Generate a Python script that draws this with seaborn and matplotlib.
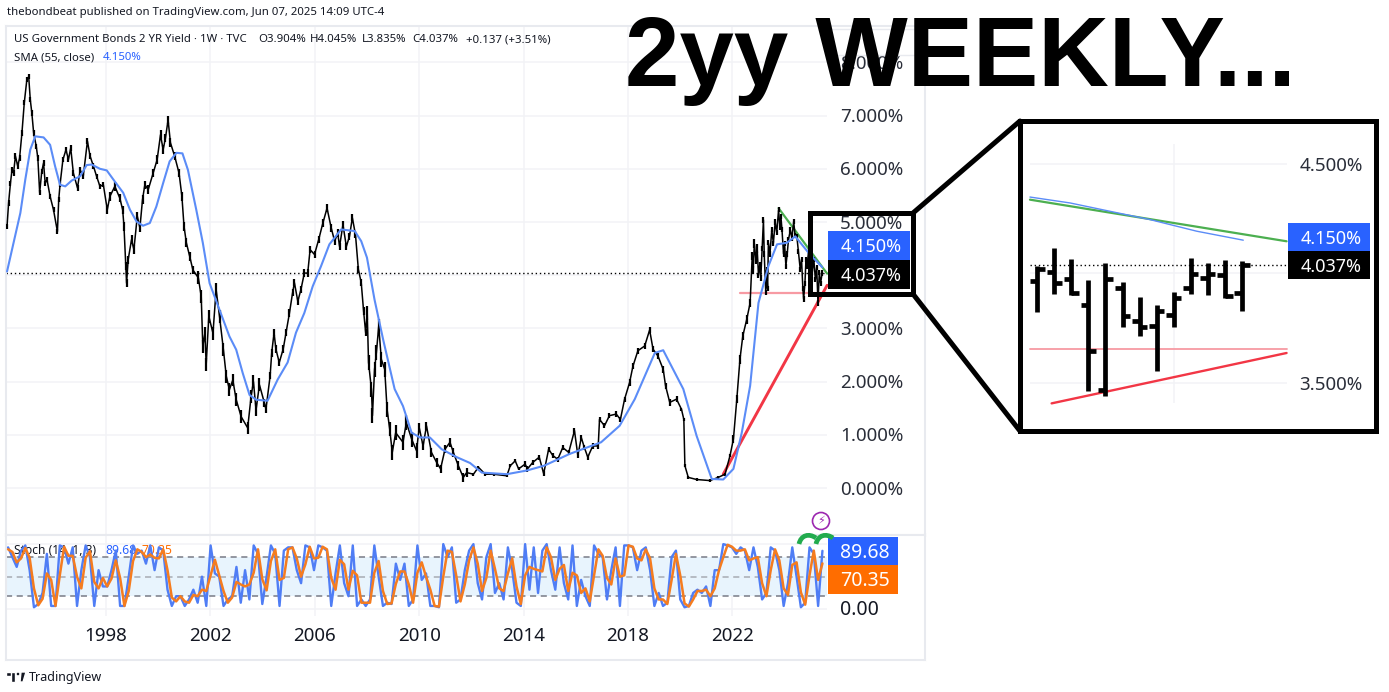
import numpy as np
import matplotlib
matplotlib.use("Agg")
import matplotlib.pyplot as plt
from matplotlib.patches import Rectangle, Polygon, Circle, PathPatch
from matplotlib.path import Path
import seaborn as sns

# weekly yield as (year, percent) turning points
price_years = [
    1994.21, 1994.27, 1994.34, 1994.40, 1994.46, 1994.53, 1994.62, 1994.69, 1994.78, 1994.87, 1994.97, 1995.04,
    1995.10, 1995.16, 1995.23, 1995.33, 1995.39, 1995.46, 1995.54, 1995.61, 1995.67, 1995.74, 1995.86, 1995.99,
    1996.14, 1996.19, 1996.24, 1996.35, 1996.47, 1996.56, 1996.65, 1996.75, 1996.91, 1997.01, 1997.13, 1997.29,
    1997.39, 1997.52, 1997.64, 1997.77, 1997.90, 1998.05, 1998.15, 1998.34, 1998.53, 1998.64, 1998.69, 1998.76,
    1998.79, 1998.85, 1998.98, 1999.07, 1999.20, 1999.30, 1999.40, 1999.49, 1999.62, 1999.81, 1999.96, 2000.09,
    2000.19, 2000.28, 2000.38, 2000.47, 2000.63, 2000.80, 2000.91, 2000.99, 2001.08, 2001.21, 2001.33, 2001.54,
    2001.65, 2001.71, 2001.79, 2001.84, 2001.94, 2002.10, 2002.22, 2002.35, 2002.50, 2002.61, 2002.73, 2002.86,
    2002.99, 2003.18, 2003.43, 2003.56, 2003.65, 2003.75, 2003.88, 2004.07, 2004.13, 2004.29, 2004.35, 2004.44,
    2004.51, 2004.64, 2004.79, 2004.90, 2005.03, 2005.15, 2005.22, 2005.35, 2005.47, 2005.60, 2005.73, 2005.82,
    2005.99, 2006.15, 2006.31, 2006.47, 2006.63, 2006.76, 2006.88, 2006.95, 2007.08, 2007.21, 2007.33, 2007.44,
    2007.56, 2007.67, 2007.78, 2007.87, 2007.95, 2008.01, 2008.06, 2008.17, 2008.21, 2008.29, 2008.36, 2008.45,
    2008.55, 2008.68, 2008.77, 2008.87, 2008.97, 2009.10, 2009.38, 2009.51, 2009.71, 2009.90, 2010.00, 2010.15,
    2010.28, 2010.47, 2010.67, 2010.82, 2010.99, 2011.18, 2011.31, 2011.50, 2011.69, 2011.82, 2012.08, 2012.27,
    2012.53, 2012.85, 2013.36, 2013.49, 2013.68, 2013.81, 2014.06, 2014.15, 2014.35, 2014.60, 2014.77, 2014.96,
    2015.12, 2015.31, 2015.50, 2015.73, 2015.95, 2016.08, 2016.21, 2016.33, 2016.46, 2016.65, 2016.86, 2016.91,
    2017.10, 2017.29, 2017.55, 2017.71, 2017.87, 2018.06, 2018.19, 2018.38, 2018.64, 2018.83, 2018.96, 2019.15,
    2019.35, 2019.44, 2019.60, 2019.86, 2020.05, 2020.14, 2020.18, 2020.31, 2020.63, 2021.14, 2021.46, 2021.72,
    2021.91, 2022.04, 2022.17, 2022.29, 2022.40, 2022.55, 2022.68,
    2022.76, 2022.80, 2022.84, 2022.90, 2022.95, 2023.00, 2023.05, 2023.09, 2023.14, 2023.19, 2023.22, 2023.28,
    2023.31, 2023.35, 2023.38, 2023.44, 2023.51, 2023.57, 2023.64, 2023.70, 2023.77, 2023.82, 2023.86, 2023.90,
    2023.96, 2024.00, 2024.05, 2024.10, 2024.15, 2024.22, 2024.28, 2024.35, 2024.40, 2024.47, 2024.53, 2024.60,
    2024.65, 2024.70, 2024.73, 2024.78, 2024.82, 2024.86, 2024.92, 2025.01, 2025.06, 2025.12, 2025.18, 2025.23,
    2025.28, 2025.33, 2025.38, 2025.44]
price_vals = [
    4.92, 5.36, 5.73, 5.98, 5.92, 6.24, 6.05, 6.20, 6.67, 7.24, 7.68, 7.73,
    7.30, 7.05, 6.67, 6.42, 6.20, 5.55, 5.95, 6.11, 5.73, 5.80, 5.48, 5.23,
    4.82, 5.42, 5.70, 6.17, 6.36, 6.17, 6.39, 5.92, 5.64, 5.98, 5.86, 6.52,
    6.24, 6.05, 5.86, 5.67, 5.70, 5.23, 5.48, 5.67, 5.45, 5.23, 4.92, 4.17,
    3.85, 4.29, 4.67, 4.48, 5.11, 4.89, 5.42, 5.70, 5.61, 5.92, 6.17, 6.64,
    6.36, 6.58, 6.92, 6.49, 6.24, 5.92, 5.48, 4.92, 4.61, 4.35, 4.10, 3.95,
    3.60, 2.66, 2.91, 2.32, 3.23, 2.91, 3.73, 3.23, 2.60, 2.10, 1.85, 2.03,
    1.66, 1.34, 1.13, 1.72, 2.00, 1.47, 1.94, 1.60, 1.48, 2.11, 2.54, 2.92,
    2.61, 2.36, 2.61, 2.92, 3.29, 3.67, 3.86, 3.51, 3.73, 4.04, 4.04, 4.48,
    4.39, 4.67, 4.98, 5.26, 4.89, 4.64, 4.79, 4.54, 4.95, 4.54, 4.73, 5.08,
    4.76, 4.11, 3.86, 3.33, 2.92, 3.29, 2.36, 1.86, 1.36, 2.23, 2.54, 3.04,
    2.42, 2.23, 1.48, 1.11, 0.67, 1.04, 0.86, 1.23, 0.92, 0.70, 1.14, 0.79,
    1.17, 0.67, 0.48, 0.36, 0.73, 0.86, 0.67, 0.42, 0.20, 0.29, 0.26, 0.39,
    0.26, 0.26, 0.23, 0.42, 0.51, 0.36, 0.45, 0.36, 0.48, 0.58, 0.27, 0.73,
    0.61, 0.54, 0.76, 0.67, 1.08, 0.61, 0.95, 0.76, 0.58, 0.79, 0.79, 1.29,
    1.17, 1.36, 1.39, 1.29, 1.67, 1.98, 2.29, 2.58, 2.67, 2.97, 2.61, 2.48,
    2.23, 1.92, 1.61, 1.67, 1.48, 1.29, 0.42, 0.20, 0.16, 0.14, 0.20, 0.26,
    0.61, 0.92, 1.67, 2.42, 2.86, 3.17, 3.48,
    4.36, 4.10, 4.60, 4.30, 4.50, 4.00, 4.20, 3.95, 4.50, 5.04, 4.40, 3.67,
    4.10, 3.75, 4.61, 4.40, 4.86, 4.60, 5.00, 4.80, 5.23, 4.90, 5.10, 4.86,
    4.40, 4.60, 4.17, 4.40, 4.67, 4.85, 4.70, 5.01, 4.75, 4.73, 4.45, 4.11,
    4.30, 3.75, 3.55, 3.85, 4.30, 4.17, 4.45, 4.39, 4.05, 4.30, 3.92, 4.15,
    3.48, 4.05, 3.85, 4.04]

# typical half height of a weekly bar, by stretch of years
span_edges = [1994, 1998, 2001.5, 2004, 2008, 2010, 2012, 2014, 2018, 2020, 2022, 2023]
span_half = [0.05, 0.08, 0.12, 0.07, 0.14, 0.08, 0.03, 0.05, 0.06, 0.03, 0.08, 0.05]

sma_years = [
    1994.21, 1994.46, 1994.72, 1994.91, 1995.10, 1995.29, 1995.61, 1995.86, 1996.05, 1996.24, 1996.44, 1996.69,
    1997.01, 1997.26, 1997.45, 1997.77, 1998.03, 1998.34, 1998.66, 1998.92, 1999.17, 1999.42, 1999.68, 1999.93,
    2000.19, 2000.44, 2000.70, 2000.93, 2001.14, 2001.46, 2001.71, 2001.97, 2002.35, 2002.73, 2002.99, 2003.24,
    2003.50, 2003.75, 2004.19, 2004.58, 2004.96, 2005.28, 2005.60, 2005.92, 2006.24, 2006.56, 2007.01, 2007.53,
    2007.78, 2008.00, 2008.29, 2008.62, 2009.06, 2009.38, 2009.71, 2010.03, 2010.41, 2010.86, 2011.44, 2011.95,
    2012.40, 2013.36, 2014.13, 2014.79, 2015.76, 2016.97, 2017.68, 2018.26, 2019.03, 2019.35, 2020.12, 2020.63,
    2021.21, 2021.65, 2022.04, 2022.36, 2022.68, 2023.00, 2023.38, 2023.71, 2024.09, 2024.41, 2024.92, 2025.44]
sma_vals = [
    4.07, 4.61, 5.17, 5.80, 6.36, 6.61, 6.59, 6.45, 6.05, 5.70, 5.67, 5.78,
    5.86, 6.07, 6.08, 6.00, 5.97, 5.76, 5.55, 5.23, 5.01, 4.93, 4.98, 5.29,
    5.73, 6.14, 6.30, 6.29, 5.98, 5.23, 4.61, 3.85, 3.35, 2.85, 2.60, 2.16,
    1.75, 1.66, 1.64, 2.04, 2.36, 2.92, 3.29, 3.79, 4.17, 4.58, 4.86, 4.83,
    4.64, 4.33, 3.54, 2.79, 1.86, 1.54, 1.04, 0.95, 0.95, 0.73, 0.58, 0.47,
    0.29, 0.26, 0.33, 0.42, 0.64, 0.86, 1.17, 1.67, 2.54, 2.59, 1.86, 0.98,
    0.17, 0.16, 0.36, 1.04, 1.92, 3.48, 4.17, 4.58, 4.61, 4.73, 4.42, 4.15]

green_years = [2023.77, 2025.63]
green_vals = [5.26, 4.03]
red_years = [2021.65, 2025.63]
red_vals = [0.26, 3.81]
pink_years = [2022.29, 2025.63]
pink_vals = [3.66, 3.66]

stoch_k = [
    95, 80, 65, 90, 98, 60, 3, 8, 25, 85, 5, 5, 98, 95, 70, 95, 5, 60, 98, 80, 5, 60, 35, 35, 60, 90, 5, 5, 50, 98,
    85, 90, 70, 98, 60, 95, 90, 30, 5, 20, 20, 5, 15, 30, 10, 50, 5, 98, 55,
    50, 5, 15, 20, 65, 10, 60, 15, 98, 85, 8, 50, 98, 85, 5, 90, 95, 95, 60, 40, 98, 95, 60, 98, 95, 90, 5, 55, 98, 40,
    20, 98, 5, 15, 5, 15, 98, 50, 5, 10, 8, 70, 45, 70, 5, 15, 98, 45, 55,
    5, 5, 3, 100, 80, 95, 10, 15, 60, 90, 100, 40, 15, 80, 100, 25, 40, 15, 95, 60, 10, 5, 100, 30, 95, 25, 90, 100, 60, 30,
    95, 40, 15, 98, 5, 45, 20, 5, 98, 85, 80, 15, 60, 95, 5, 98, 98, 95, 60, 90, 95, 60, 5, 25, 5, 10, 80, 90, 15, 3, 5, 25, 30,
    25, 35, 5, 60, 60, 100, 98, 95, 85, 95, 90, 60, 95, 65, 15, 25, 95, 90, 60, 5, 40, 95, 50, 3, 10, 95, 85, 5, 89.68]
stoch_d = [
    92, 88, 72, 78, 94, 79, 32, 6, 16, 55, 45, 5, 52, 96, 82, 82, 50, 32, 79, 89, 42, 32, 48, 35, 47, 75, 48, 5, 28, 74,
    92, 88, 80, 84, 79, 78, 92, 60, 18, 12, 20, 12, 10, 22, 20, 30, 28, 52, 76,
    52, 28, 10, 18, 42, 38, 35, 38, 56, 92, 46, 29, 74, 92, 45, 48, 92, 95, 78, 50, 69, 96, 78, 79, 96, 92, 48, 30, 76, 69,
    30, 59, 52, 10, 10, 10, 56, 74, 28, 8, 9, 39, 58, 58, 38, 10, 56, 72, 50,
    30, 5, 4, 50, 90, 88, 52, 12, 38, 75, 95, 70, 28, 48, 90, 62, 32, 28, 55, 78, 35, 8, 52, 65, 62, 60, 58, 95, 80, 45,
    62, 68, 28, 56, 52, 25, 32, 12, 52, 92, 82, 48, 38, 78, 50, 52, 98, 96, 78, 75, 92, 78, 32, 15, 15, 8, 45, 85, 52, 9, 4, 15, 28,
    28, 30, 20, 32, 60, 80, 99, 96, 90, 90, 92, 75, 78, 80, 40, 20, 60, 92, 75, 32, 22, 68, 72, 26, 7, 52, 90, 45, 70.35]

year_ticks = [1998, 2002, 2006, 2010, 2014, 2018, 2022]
yield_ticks = [0, 1, 2, 3, 4, 5, 6, 7, 8]
last_close = 4.037
last_sma = 4.150

# last 13 weekly bars for the zoomed box
bar_open = [3.966, 4.007, 3.976, 3.856, 3.470, 3.934, 3.782, 3.759, 3.812, 3.934, 3.979, 3.992, 3.911]
bar_high = [4.033, 4.116, 4.066, 3.972, 4.048, 3.961, 3.893, 3.856, 3.916, 4.071, 4.048, 4.063, 4.056]
bar_low = [3.824, 3.906, 3.902, 3.462, 3.439, 3.754, 3.713, 3.553, 3.756, 3.906, 3.902, 3.888, 3.827]
bar_close = [4.021, 3.957, 3.911, 3.646, 3.975, 3.804, 3.756, 3.830, 3.888, 3.998, 3.998, 3.899, 4.040]
zoom_sma_idx = [-0.43, 1.92, 4.26, 6.61, 9.35, 12.08]
zoom_sma_vals = [4.349, 4.322, 4.284, 4.246, 4.193, 4.152]
zoom_green_idx = [-0.43, 14.62]
zoom_green_vals = [4.337, 4.147]
zoom_red_idx = [0.84, 14.62]
zoom_red_vals = [3.407, 3.637]
zoom_pink_idx = [-0.43, 14.62]
zoom_pink_vals = [3.657, 3.657]
zoom_ticks = [3.5, 4.0, 4.5]

W, H = 1389, 692
BLACK = "#000000"
BLUE = "#2962ff"
SMA_BLUE = "#5b8cf7"
ORANGE = "#ff6d00"
GRID = "#f2f3f6"
FRAME = "#e8eaef"
TXT = "#131722"

sns.set_theme(style="white")
plt.rcParams["font.family"] = ["Noto Sans", "DejaVu Sans"]


def px_axes(x0, y0, x1, y1, **kw):
    return fig.add_axes([x0 / W, 1 - y1 / H, (x1 - x0) / W, (y1 - y0) / H], **kw)


def line(ax, xs, ys, color, lw, zorder=3, **kw):
    sns.lineplot(x=xs, y=ys, sort=False, estimator=None, errorbar=None, color=color,
                 linewidth=lw, ax=ax, legend=False, zorder=zorder, **kw)


fig = plt.figure(figsize=(W / 100, H / 100), dpi=100, facecolor="white")

# main price pane
year_left, year_right, pane_end = 1994.17, 2029.38, 2025.63
ax = px_axes(6, 26, 925, 535)
ax.set_xlim(year_left, year_right)
ax.set_ylim(-0.883, 8.684)
ax.set_xticks([])
ax.set_yticks([])
ax.hlines(yield_ticks, year_left, pane_end, color=GRID, lw=1.1, zorder=1)
ax.vlines(year_ticks, -0.883, 8.684, color=GRID, lw=1.1, zorder=1)
ax.hlines(last_close, year_left, pane_end, color=BLACK, lw=1, linestyles=(0, (1, 2)), zorder=2)
line(ax, pink_years, pink_vals, "#f79aa3", 1.6)
line(ax, green_years, green_vals, "#4caf50", 1.6)
line(ax, red_years, red_vals, "#f23645", 2.1)
line(ax, price_years, price_vals, BLACK, 1.1, zorder=4)
half = np.array(span_half)[np.searchsorted(span_edges, price_years, side="right") - 1]
ax.vlines(price_years, np.array(price_vals) - half, np.array(price_vals) + half, color=BLACK, lw=1.6, zorder=4)
line(ax, sma_years, sma_vals, SMA_BLUE, 1.5, zorder=5)
for v in yield_ticks:
    ax.text(2028.55, v - 0.03, f"{v:.3f}%", ha="right", va="center", fontsize=13.5, color="#2a2e39")

# stochastic pane
sx = px_axes(6, 535, 925, 660)
sx.set_xlim(year_left, year_right)
sx.set_ylim(-78, 114)
sx.set_xticks([])
sx.set_yticks([])
stoch_years = np.linspace(1994.25, 2025.45, len(stoch_k))
sx.hlines([0, 100], year_left, pane_end, color=GRID, lw=1.1, zorder=1)
sx.vlines(year_ticks, -10, 114, color=GRID, lw=1.1, zorder=1)
sx.fill_between([year_left, pane_end], 20, 80, color="#e8f4fd", lw=0, zorder=1)
sx.hlines([20, 80], year_left, pane_end, color="#787b86", lw=1.1, linestyles=(0, (4, 3)), zorder=2)
sx.hlines(50, year_left, pane_end, color="#a8abb3", lw=1.1, linestyles=(0, (4, 3)), zorder=2)
line(sx, stoch_years, stoch_k, "#4f7df5", 1.7, zorder=4)
line(sx, stoch_years, stoch_d, "#f57c1f", 1.8, zorder=5)
for y in year_ticks:
    sx.text(y, -41, str(y), ha="center", va="center", fontsize=13.5, color=TXT, fontweight="bold")
for ax_ in (ax, sx):
    for s in ax_.spines.values():
        s.set_color(FRAME)
        s.set_linewidth(1.5)

# zoomed box
zx = px_axes(1022, 123, 1375, 429)
zx.set_xlim(-0.897, 19.806)
zx.set_ylim(3.29, 4.687)
zx.set_xticks([])
zx.set_yticks([])
for s in zx.spines.values():
    s.set_visible(False)
zoom_idx = np.arange(len(bar_high))
zoom_end, tick_len = 14.62, 0.45
zx.hlines(zoom_ticks, -0.43, zoom_end, color=GRID, lw=1.1, zorder=1)
zx.vlines(8, 3.41, 4.59, color=GRID, lw=1.1, zorder=1)
zx.hlines(last_close, -0.43, zoom_end, color=BLACK, lw=1, linestyles=(0, (1, 2)), zorder=2)
line(zx, zoom_pink_idx, zoom_pink_vals, "#f79aa3", 1.3)
line(zx, zoom_green_idx, zoom_green_vals, "#4caf50", 1.6)
line(zx, zoom_red_idx, zoom_red_vals, "#f23645", 1.7)
line(zx, zoom_sma_idx, zoom_sma_vals, SMA_BLUE, 1.0)
zx.vlines(zoom_idx, bar_low, bar_high, color=BLACK, lw=3.4, zorder=4)
zx.hlines(bar_open, zoom_idx - tick_len, zoom_idx, color=BLACK, lw=3.4, zorder=4)
zx.hlines(bar_close, zoom_idx, zoom_idx + tick_len, color=BLACK, lw=3.4, zorder=4)
for v in [3.5, 4.5]:
    zx.text(19.09, v - 0.008, f"{v:.3f}%", ha="right", va="center", fontsize=13.5, color="#2a2e39")

# overlay in pixel coordinates for labels, frames and header text
ov = fig.add_axes([0, 0, 1, 1], facecolor="none")
ov.set_xlim(0, W)
ov.set_ylim(H, 0)
ov.axis("off")


def box(x0, y0, x1, y1, color, text, tx, **kw):
    ov.add_patch(Rectangle((x0, y0), x1 - x0, y1 - y0, facecolor=color, edgecolor="none", zorder=6))
    ov.text(tx, (y0 + y1) / 2 + 1.5, text, color="white", ha="right", va="center", zorder=7, **kw)


ov.add_patch(Rectangle((829, 29), 91, 26, facecolor="none", edgecolor=FRAME, lw=1, zorder=1))
box(828, 231, 910, 260, BLUE, f"{last_sma:.3f}%", 902, fontsize=13, fontweight="bold")
box(828, 260, 910, 289, BLACK, f"{last_close:.3f}%", 902, fontsize=13, fontweight="bold")
box(1288, 223, 1370, 251, BLUE, f"{last_sma:.3f}%", 1362, fontsize=13, fontweight="bold")
box(1288, 251, 1370, 279, BLACK, f"{last_close:.3f}%", 1362, fontsize=13, fontweight="bold")
box(828, 537, 898, 565, BLUE, f"{stoch_k[-1]:.2f}", 890, fontsize=14, fontweight="bold")
box(828, 565, 898, 594, ORANGE, f"{stoch_d[-1]:.2f}", 890, fontsize=14, fontweight="bold")
ov.text(879, 610, "0.00", ha="right", va="center", fontsize=14, color=TXT)

ov.add_patch(Rectangle((810, 213), 103, 81, facecolor="none", edgecolor=BLACK, lw=3.6, zorder=8))
ov.add_patch(Rectangle((1020, 121), 356, 310, facecolor="none", edgecolor=BLACK, lw=3.6, zorder=8))
ov.plot([913, 1020], [213, 121], color=BLACK, lw=3.6, zorder=8, solid_capstyle="round")
ov.plot([913, 1020], [294, 431], color=BLACK, lw=3.6, zorder=8, solid_capstyle="round")

# purple flash icon and green curved arrows above the pane
ov.add_patch(Circle((821, 521), 8.5, facecolor="white", edgecolor="#9c27b0", lw=1.2, zorder=9))
ov.text(821, 521, "\u26a1", color="#9c27b0", fontsize=8, ha="center", va="center", zorder=10,
        family="DejaVu Sans")
for xs in (799, 816):
    ov.add_patch(PathPatch(Path([(xs, 544), (xs + 2, 535), (xs + 10, 533), (xs + 17, 538)],
                                [Path.MOVETO, Path.CURVE4, Path.CURVE4, Path.CURVE4]),
                           facecolor="none", edgecolor="#22ab4e", lw=3.4, zorder=9))

ov.text(7, 13, "thebondbeat published on TradingView.com, Jun 07, 2025 14:09 UTC-4",
        fontsize=8.2, color=TXT, va="center")
ov.text(14, 40, "US Government Bonds 2 YR Yield \u00b7 1W \u00b7 TVC", fontsize=8.2, color=TXT, va="center")
ov.text(258, 40, "O3.904%", fontsize=8.2, color=TXT, va="center")
ov.text(310, 40, "H4.045%", fontsize=8.2, color=TXT, va="center")
ov.text(362, 40, "L3.835%", fontsize=8.2, color=TXT, va="center")
ov.text(412, 40, "C4.037%", fontsize=8.2, color=TXT, va="center")
ov.text(466, 40, "+0.137 (+3.51%)", fontsize=8.2, color=TXT, va="center")
ov.text(14, 58, "SMA (55, close)", fontsize=8.2, color=TXT, va="center")
ov.text(103, 58, "4.150%", fontsize=8.2, color=BLUE, va="center")
sx.text(14, 551, "Stoch (14, 1, 3)", fontsize=8.7, color=TXT, va="center", transform=ov.transData, zorder=3)
sx.text(105, 551, "89.68", fontsize=8.7, color=BLUE, va="center", transform=ov.transData, zorder=3)
sx.text(141, 551, "70.35", fontsize=8.7, color=ORANGE, va="center", transform=ov.transData, zorder=3)

ov.text(625, 60, "2yy WEEKLY...", fontsize=70.5, fontweight="bold", family="Liberation Sans",
        color=BLACK, va="center", zorder=12)

# TradingView logo
ov.add_patch(Rectangle((6, 672), 9, 4, facecolor=TXT, zorder=5))
ov.add_patch(Rectangle((10.5, 672), 4.5, 10, facecolor=TXT, zorder=5))
ov.add_patch(Circle((18, 674), 2, facecolor=TXT, zorder=5))
ov.add_patch(Polygon([(20, 682), (21, 672), (26, 672), (23, 682)], facecolor=TXT, zorder=5))
ov.text(29, 677, "TradingView", fontsize=9, color=TXT, va="center")

fig.savefig("out.png", dpi=100)
